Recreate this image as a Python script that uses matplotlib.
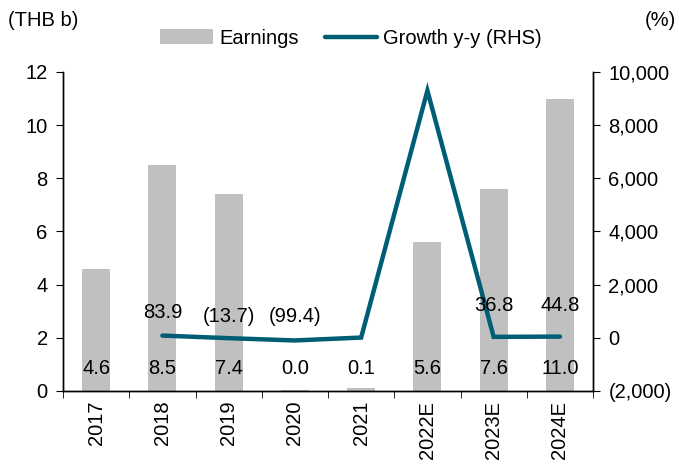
import matplotlib
matplotlib.use("Agg")
import matplotlib.pyplot as plt
import numpy as np
from matplotlib.ticker import FuncFormatter

plt.rcParams["font.family"] = ["Liberation Sans", "DejaVu Sans"]
plt.rcParams["font.size"] = 14.5

BAR_COLOR = "#c0c0c0"
LINE_COLOR = "#005e74"

years = ["2017", "2018", "2019", "2020", "2021", "2022E", "2023E", "2024E"]
earnings = [4.6, 8.5, 7.4, 0.02, 0.1, 5.6, 7.6, 11.0]
earn_labels = ["4.6", "8.5", "7.4", "0.0", "0.1", "5.6", "7.6", "11.0"]
growth_years = years[1:]
growth = [83.9, -13.7, -99.4, 10.0, 9300.0, 36.8, 44.8]
growth_labels = ["83.9", "(13.7)", "(99.4)", "", "", "36.8", "44.8"]
# vertical gap (pixels) between line point and its label
label_gap = [23, 22, 24, 0, 0, 31, 31]


def fmt_rhs(v, _):
    if v < 0:
        return f"({abs(v):,.0f})"
    return f"{v:,.0f}"


fig = plt.figure(figsize=(6.79, 4.66), dpi=100)
ax = fig.add_axes([0.0928, 0.161, 0.7806, 0.6845])
ax2 = ax.twinx()

x = np.arange(len(years))
ax.bar(x, earnings, width=0.42, color=BAR_COLOR, label="Earnings", zorder=1)
for xi, lab in zip(x, earn_labels):
    ax.text(xi, 0.83, lab, ha="center", va="center")

gx = x[1:]
ax2.plot(gx, growth, color=LINE_COLOR, lw=3.2, solid_capstyle="round",
         solid_joinstyle="miter", label="Growth y-y (RHS)")
for xi, v, lab, gap in zip(gx, growth, growth_labels, label_gap):
    if lab:
        ax2.annotate(lab, (xi, v), xytext=(0, gap * 0.72), textcoords="offset points",
                     ha="center", va="center")

ax.set_xlim(-0.5, len(years) - 0.5)
ax.set_ylim(0, 12)
ax.set_yticks(range(0, 13, 2))
ax2.set_ylim(-2000, 10000)
ax2.set_yticks(range(-2000, 10001, 2000))
ax2.yaxis.set_major_formatter(FuncFormatter(fmt_rhs))

ax.set_xticks(x)
ax.set_xticklabels(years, rotation=90)
ax.set_xticks(np.arange(-0.5, len(years)), minor=True)
ax.tick_params(axis="x", which="major", length=0, pad=7)
ax.tick_params(axis="x", which="minor", length=5, direction="out")
ax.tick_params(axis="y", direction="out", length=5, pad=6)
ax2.tick_params(axis="y", direction="out", length=5, pad=6)

for a in (ax, ax2):
    a.spines["top"].set_visible(False)
    for s in ("left", "right", "bottom"):
        a.spines[s].set_linewidth(1.0)

ax2.set_zorder(ax.get_zorder() + 1)
ax2.patch.set_visible(False)

fig.text(0.012, 0.957, "(THB b)", ha="left", va="center")
fig.text(0.995, 0.957, "(%)", ha="right", va="center")

h1, l1 = ax.get_legend_handles_labels()
h2, l2 = ax2.get_legend_handles_labels()
fig.legend(h1 + h2, l1 + l2, loc="center", bbox_to_anchor=(0.517, 0.918), ncol=2,
           frameon=False, handlelength=2.6, handleheight=0.75, columnspacing=1.3,
           handletextpad=0.3)

fig.savefig("out.png", dpi=100)
